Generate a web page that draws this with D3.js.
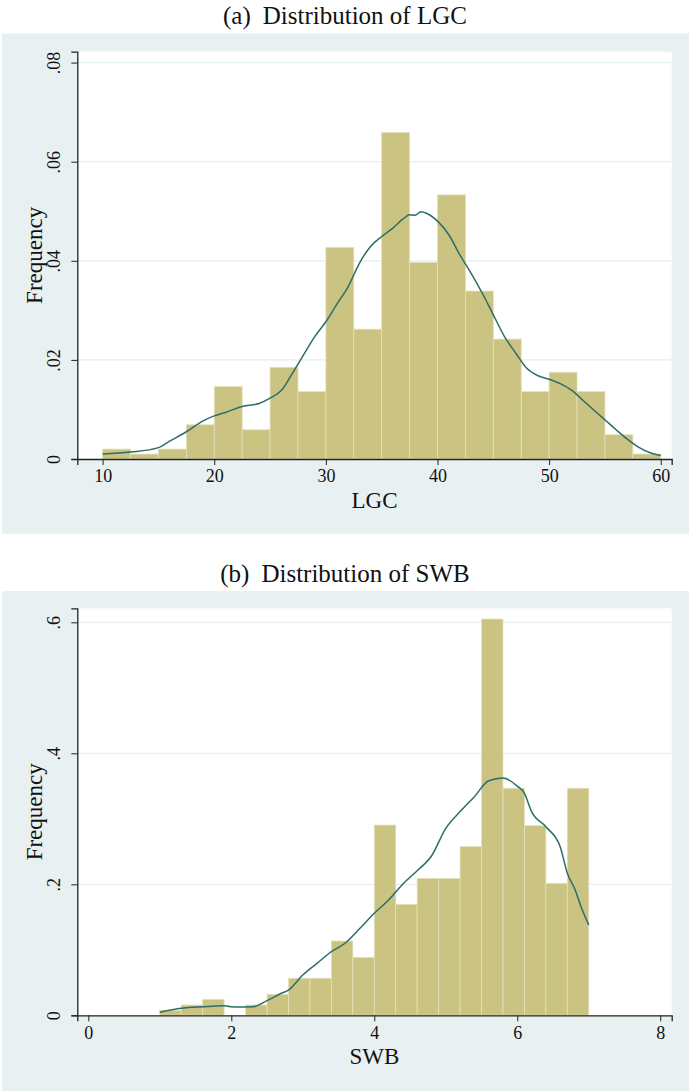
<!DOCTYPE html>
<html>
<head>
<meta charset="utf-8">
<script src="https://cdn.jsdelivr.net/npm/d3@7"></script>
<style>
  body { margin: 0; background: #ffffff; }
  svg { display: block; }
</style>
</head>
<body>
<svg id="chart" width="689" height="1091"></svg>
<script>
// ---- data ----
// (a) LGC: histogram bin edges and heights
const lgcEdges = [10, 12.5, 15, 17.5, 20, 22.5, 25, 27.5, 30, 32.5, 35, 37.5, 40, 42.5, 45, 47.5, 50, 52.5, 55, 57.5, 60];
const lgcFreq = [0.002, 0.001, 0.002, 0.0069, 0.0146, 0.0059, 0.0185, 0.0136, 0.0427, 0.0262,
                 0.0659, 0.0397, 0.0533, 0.0339, 0.0242, 0.0136, 0.0175, 0.0136, 0.0049, 0.001];
// kernel density curve for LGC
const lgcKdeX = [10, 12.5, 15, 16, 17.5, 19, 20, 21, 22.5, 24, 25, 26, 27, 28, 29, 30, 31, 32, 33, 34, 35,
                 36, 37, 37.5, 38, 38.5, 39, 40, 41, 42, 43, 44, 45, 46, 47, 48, 49, 50, 51, 52, 53, 54,
                 55, 56, 57, 58, 59, 60];
const lgcKdeY = [0.001, 0.0014, 0.0023, 0.0036, 0.0055, 0.0077, 0.0087, 0.0094, 0.0106, 0.0112, 0.0123,
                 0.0138, 0.0173, 0.021, 0.0247, 0.0277, 0.0313, 0.0348, 0.0395, 0.0429, 0.0449,
                 0.0466, 0.0486, 0.0493, 0.0492, 0.0499, 0.0496, 0.048, 0.0453, 0.0412, 0.0375, 0.0335,
                 0.0291, 0.0247, 0.0214, 0.0183, 0.0168, 0.0161, 0.0152, 0.0139, 0.0119, 0.0099,
                 0.0079, 0.0059, 0.004, 0.0024, 0.0013, 0.0007];
const lgcTicksX = [10, 20, 30, 40, 50, 60];
const lgcTicksY = [0, 0.02, 0.04, 0.06, 0.08];

// (b) SWB
const swbEdges = [1, 1.3, 1.6, 1.9, 2.2, 2.5, 2.8, 3.1, 3.4, 3.7, 4.0, 4.3, 4.6, 4.9, 5.2, 5.5, 5.8, 6.1, 6.4, 6.7, 7.0];
const swbFreq = [0.0076, 0.0157, 0.0244, 0, 0.0157, 0.032, 0.0565, 0.0565, 0.1134, 0.0885,
                 0.2905, 0.1694, 0.209, 0.209, 0.2575, 0.605, 0.3466, 0.2895, 0.2015, 0.3466];
const swbKdeX = [1.0, 1.3, 1.6, 1.9, 2.0, 2.1, 2.3, 2.5, 2.7, 2.8, 3.0, 3.2, 3.4, 3.6, 3.8, 4.0, 4.2, 4.4,
                 4.6, 4.8, 5.0, 5.2, 5.4, 5.6, 5.8, 6.0, 6.1, 6.2, 6.4, 6.6, 6.7, 6.8, 6.9, 7.0];
const swbKdeY = [0.0046, 0.0107, 0.0131, 0.0147, 0.013, 0.0127, 0.013, 0.0223, 0.0336, 0.0386, 0.0615,
                 0.0794, 0.0971, 0.1108, 0.1328, 0.1557, 0.176, 0.2005, 0.2208, 0.2432, 0.2855, 0.311,
                 0.3338, 0.3582, 0.3623, 0.35, 0.339, 0.311, 0.288, 0.2575, 0.2168, 0.194, 0.1634, 0.138];
const swbTicksX = [0, 2, 4, 6, 8];
const swbTicksY = [0, 0.2, 0.4, 0.6];

const FONT = '"Liberation Serif", "Times New Roman", serif';
const BAR_FILL = '#cbc382';
const BAR_STROKE = '#e6e0b8';
const KDE_COLOR = '#2b6d69';
const PANEL_BG = '#e9f0f2';
const GRID = '#e6eef1';

const svg = d3.select('svg#chart').style('font-family', FONT);

function fmtY(d) {
    if (d === 0) return '0';
    return d3.format('.2~f')(d).replace(/^0/, '');
}

function histogram({ svg, label, title, titleY, panelTop, panelBottom, plotTop, plotBottom,
                     xDomain, yDomain, edges, freq, kdeX, kdeY, ticksX, ticksY, xLabel,
                     plotLeft = 77.3, plotRight = 671.7 }) {
    const g = svg.append('g');

    const t = g.append('text')
        .attr('x', 345).attr('y', titleY)
        .attr('text-anchor', 'middle').attr('dominant-baseline', 'central')
        .attr('font-size', 25).attr('fill', '#111');
    t.append('tspan').text(label);
    t.append('tspan').attr('dx', 12).text(title);

    g.append('rect')
        .attr('x', 2).attr('y', panelTop)
        .attr('width', 687).attr('height', panelBottom - panelTop)
        .attr('fill', PANEL_BG);

    g.append('rect')
        .attr('x', plotLeft).attr('y', plotTop)
        .attr('width', plotRight - plotLeft).attr('height', plotBottom - plotTop)
        .attr('fill', '#ffffff');

    const x = d3.scaleLinear().domain(xDomain).range([plotLeft, plotRight]);
    const y = d3.scaleLinear().domain(yDomain).range([plotBottom, plotTop]);

    // grid lines
    g.append('g').selectAll('line').data(ticksY.filter(d => d !== 0))
        .join('line')
        .attr('x1', plotLeft).attr('x2', plotRight)
        .attr('y1', d => y(d)).attr('y2', d => y(d))
        .attr('stroke', GRID).attr('stroke-width', 1.2);

    // bars
    const bins = freq.map((f, i) => ({ x0: edges[i], x1: edges[i + 1], f }));
    g.append('g').selectAll('rect').data(bins.filter(b => b.f > 0))
        .join('rect')
        .attr('x', d => x(d.x0))
        .attr('y', d => y(d.f))
        .attr('width', d => x(d.x1) - x(d.x0))
        .attr('height', d => y(0) - y(d.f))
        .attr('fill', BAR_FILL)
        .attr('stroke', BAR_STROKE)
        .attr('stroke-width', 0.8);

    // density curve
    const line = d3.line().curve(d3.curveMonotoneX).x(d => x(d[0])).y(d => y(d[1]));
    g.append('path')
        .datum(d3.zip(kdeX, kdeY))
        .attr('fill', 'none')
        .attr('stroke', KDE_COLOR)
        .attr('stroke-width', 1.5)
        .attr('d', line);

    // x axis
    const xAxis = g.append('g')
        .attr('transform', `translate(0,${plotBottom})`)
        .call(d3.axisBottom(x).tickValues(ticksX).tickFormat(d3.format('d')).tickSizeOuter(0).tickSize(6));
    xAxis.select('.domain').attr('stroke', '#222').attr('stroke-width', 1.3);
    xAxis.selectAll('.tick line').attr('stroke', '#222').attr('stroke-width', 1);
    xAxis.selectAll('.tick text')
        .attr('font-family', FONT).attr('font-size', 18).attr('fill', '#111').attr('dy', '0.8em');

    // y axis
    const yAxis = g.append('g')
        .attr('transform', `translate(${plotLeft},0)`)
        .call(d3.axisLeft(y).tickValues(ticksY).tickFormat(fmtY).tickSizeOuter(0).tickSize(6));
    yAxis.select('.domain').attr('stroke', '#222').attr('stroke-width', 1.3);
    yAxis.selectAll('.tick line').attr('stroke', '#222').attr('stroke-width', 1);
    yAxis.selectAll('.tick text')
        .attr('font-family', FONT).attr('font-size', 18).attr('fill', '#111')
        .attr('x', null).attr('dy', null)
        .attr('text-anchor', 'middle')
        .attr('transform', 'translate(-17,0) rotate(-90)');

    // axis titles
    g.append('text')
        .attr('x', (plotLeft + plotRight) / 2).attr('y', plotBottom + 41)
        .attr('text-anchor', 'middle').attr('dominant-baseline', 'central')
        .attr('font-size', 23).attr('fill', '#111')
        .text(xLabel);

    g.append('text')
        .attr('transform', `translate(34,${(plotTop + plotBottom) / 2}) rotate(-90)`)
        .attr('text-anchor', 'middle').attr('dominant-baseline', 'central')
        .attr('font-size', 23).attr('fill', '#111')
        .text('Frequency');
}

histogram({
    svg, label: '(a)', title: 'Distribution of LGC', titleY: 15,
    panelTop: 33.5, panelBottom: 534, plotTop: 51.7, plotBottom: 459,
    xDomain: [7.73, 60.98], yDomain: [0, 0.0822],
    edges: lgcEdges, freq: lgcFreq, kdeX: lgcKdeX, kdeY: lgcKdeY,
    ticksX: lgcTicksX, ticksY: lgcTicksY, xLabel: 'LGC'
});

histogram({
    svg, label: '(b)', title: 'Distribution of SWB', titleY: 573,
    panelTop: 591, panelBottom: 1091, plotTop: 608.3, plotBottom: 1015.3,
    xDomain: [-0.154, 8.16], yDomain: [0, 0.6214],
    edges: swbEdges, freq: swbFreq, kdeX: swbKdeX, kdeY: swbKdeY,
    ticksX: swbTicksX, ticksY: swbTicksY, xLabel: 'SWB'
});
</script>
</body>
</html>
